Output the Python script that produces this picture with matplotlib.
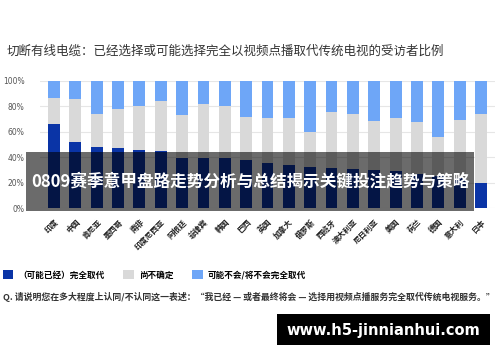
import numpy as np
import matplotlib
matplotlib.use("Agg")
import matplotlib.pyplot as plt
from matplotlib.patches import Rectangle, Patch

plt.rcParams['font.family'] = ['Noto Sans CJK SC', 'DejaVu Sans']

# 数据
countries = ['印度', '中国', '肯尼亚', '墨西哥', '南非', '印度尼西亚', '阿根廷', '菲律宾',
             '韩国', '巴西', '英国', '加拿大', '俄罗斯', '西班牙', '澳大利亚', '尼日利亚',
             '美国', '荷兰', '德国', '意大利', '日本']
replace = [66, 52, 48, 47, 46, 45, 39.5, 39, 39, 38, 35.5, 33.5, 32, 31.5, 30.5, 30,
           29, 27, 25, 24, 19.5]
unsure = [21, 34, 26, 31, 34, 39, 33.5, 43, 41, 34, 35.5, 37.5, 28, 44, 43.5, 38.5,
          41.5, 41, 31, 45, 54.5]
not_replace = [100 - a - b for a, b in zip(replace, unsure)]
yticks = [0, 20, 40, 60, 80, 100]
legend_labels = ['（可能已经）完全取代', '尚不确定', '可能不会/将不会完全取代']
colors = ['#0a34a6', '#d9d9d9', '#6ea6f7']

W, H = 500, 362
fig = plt.figure(figsize=(5, 3.62), dpi=100)
ax = fig.add_axes([40 / W, 1 - 208 / H, 455 / W, 127 / H])

x = np.arange(len(countries))
ax.bar(x, replace, width=0.56, color=colors[0], zorder=3)
ax.bar(x, unsure, width=0.56, bottom=replace, color=colors[1], zorder=3)
ax.bar(x, not_replace, width=0.56, bottom=np.add(replace, unsure), color=colors[2], zorder=3)

ax.set_xlim(-0.66, len(countries) - 0.34)
ax.set_ylim(0, 100)
ax.set_yticks(yticks)
ax.set_yticklabels([f'{v}%' for v in yticks], fontsize=5.5, color='#555555', family='DejaVu Sans')
ax.tick_params(axis='y', length=0, pad=11)
ax.grid(axis='y', color='#e6e6e6', linewidth=0.8, zorder=0)
for s in ax.spines.values():
    s.set_visible(False)

ax.set_xticks(x)
ax.set_xticklabels(countries, rotation=45, ha='right', va='top', rotation_mode='anchor',
                   fontsize=5.6, fontweight='bold', color='#222222')
ax.tick_params(axis='x', length=0, pad=7)

# 标题
fig.text(7 / W, 1 - 51 / H, '切断有线电缆：已经选择或可能选择完全以视频点播取代传统电视的受访者比例',
         fontsize=9, color='#333333', va='center', ha='left')

# 图例
handles = [Patch(facecolor=c, edgecolor='none') for c in colors]
fig.legend(handles, legend_labels, loc='center left', bbox_to_anchor=(0.0, 1 - 275 / H),
           ncol=3, frameon=False, handlelength=1.2, handleheight=1.2,
           handletextpad=0.6, columnspacing=2.2, borderaxespad=0, borderpad=0.3,
           prop={'weight': 'bold', 'size': 6.2})

# 注释
fig.text(3 / W, 1 - 297 / H,
         'Q. 请说明您在多大程度上认同/不认同这一表述：“我已经 — 或者最终将会 — 选择用视频点播服务完全取代传统电视服务。”',
         fontsize=6.4, color='#333333', va='center', ha='left', fontweight='bold')

# 横幅
fig.add_artist(Rectangle((26 / W, 1 - 211 / H), 448 / W, 59 / H, transform=fig.transFigure,
                         facecolor='black', alpha=0.58, edgecolor='none', zorder=10))
fig.text(250 / W, 1 - 181 / H, '0809赛季意甲盘路走势分析与总结揭示关键投注趋势与策略',
         fontsize=12, fontweight='bold', color='white', ha='center', va='center', zorder=11)

# 水印
fig.add_artist(Rectangle((277 / W, 1 - 345 / H), 213 / W, 31 / H, transform=fig.transFigure,
                         facecolor='black', edgecolor='none', zorder=10))
fig.text(383 / W, 1 - 330 / H, 'www.h5-jinnianhui.com', fontsize=10.5, fontweight='bold',
         color='white', ha='center', va='center', family='DejaVu Sans', zorder=11)

fig.savefig('out.png', dpi=100)
